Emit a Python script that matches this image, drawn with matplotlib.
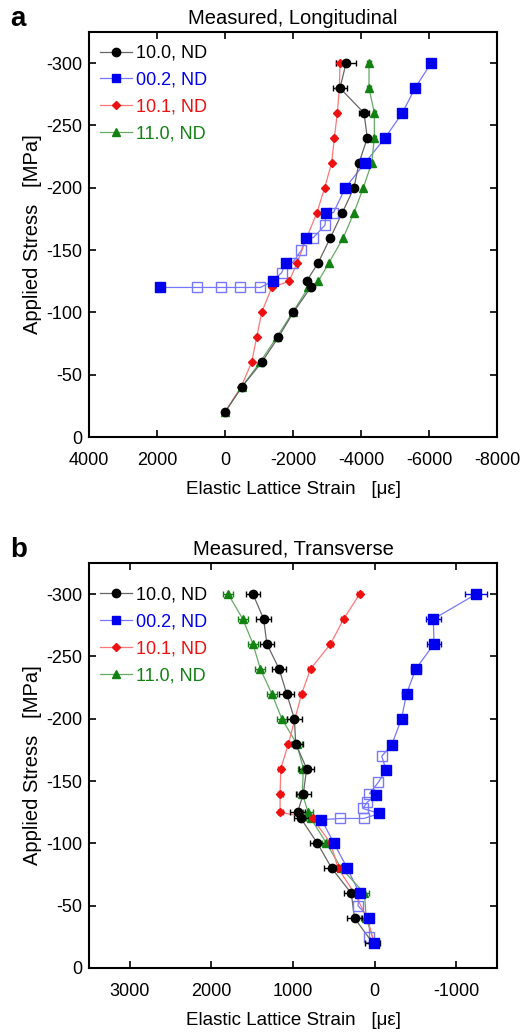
import matplotlib
matplotlib.use("Agg")
import matplotlib.pyplot as plt
from matplotlib.lines import Line2D
import numpy as np

plt.rcParams['font.family'] = ['Liberation Sans', 'DejaVu Sans']
plt.rcParams['axes.unicode_minus'] = False

# ---------------- data ----------------
stress = [-20, -40, -60, -80, -100, -120, -125, -140, -160, -180, -200, -220, -240, -260, -280, -300]

# Panel a: Measured, Longitudinal
a_100 = [0, -490, -1080, -1570, -2010, -2520, -2400, -2745, -3100, -3450, -3794, -3941, -4186, -4088, -3382, -3560]
a_100_err = [30, 30, 30, 30, 30, 30, 30, 30, 30, 40, 40, 60, 80, 150, 220, 300]
a_101 = [0, -470, -785, -930, -1080, -1373, -1885, -2127, -2402, -2705, -2930, -3137, -3216, -3304, -3363, -3382]
a_101_err = [30, 30, 30, 30, 30, 30, 30, 30, 30, 30, 30, 30, 40, 40, 60, 120]
a_110 = [0, -490, -1030, -1520, -1990, -2451, -2745, -3060, -3480, -3794, -4069, -4314, -4392, -4392, -4235, -4235]
a_110_err = [30, 30, 30, 30, 30, 30, 30, 30, 30, 30, 30, 30, 40, 40, 60, 60]
# 00.2 in load-step order (filled = measured at load step, open = during hold)
a_002_stress = [-120, -120, -120, -120, -120, -125, -132, -140, -140, -150, -160, -160, -170, -180, -180, -200, -220, -240, -260, -280, -300]
a_002_strain = [1910, 830, 125, -440, -1040, -1400, -1670, -1785, -1990, -2250, -2370, -2600, -2940, -2980, -3190, -3540, -4118, -4706, -5215, -5590, -6060]
a_002_open = [0, 1, 1, 1, 1, 0, 1, 0, 1, 1, 0, 1, 1, 0, 1, 0, 0, 0, 0, 0, 0]

# Panel b: Measured, Transverse
b_100 = [22, 246, 286, 525, 700, 903, 943, 873, 833, 967, 983, 1077, 1170, 1320, 1360, 1490]
b_100_err = [90, 90, 90, 90, 90, 90, 90, 90, 90, 90, 90, 90, 90, 90, 90, 90]
b_101 = [2, 91, 246, 448, 538, 760, 1158, 1158, 1150, 1056, 976, 894, 785, 541, 380, 185]
b_101_err = [30, 30, 30, 30, 30, 30, 30, 30, 30, 30, 30, 30, 30, 30, 30, 30]
b_110 = [2, 103, 124, 408, 590, 780, 815, 886, 873, 955, 1137, 1259, 1401, 1490, 1615, 1794]
b_110_err = [60, 60, 60, 60, 60, 60, 60, 60, 60, 60, 60, 60, 60, 60, 60, 60]
b_002_stress = [-20, -25, -40, -50, -60, -80, -100, -119, -120, -120, -124, -128, -133, -139, -140, -149, -159, -170, -179, -200, -220, -240, -260, -280, -300]
b_002_strain = [2, 63, 63, 204, 185, 335, 496, 651, 428, 131, -59, 144, 91, -18, 63, -46, -140, -88, -209, -330, -391, -505, -728, -720, -1243]
b_002_open = [0, 1, 0, 1, 0, 0, 0, 0, 1, 1, 0, 1, 1, 0, 1, 1, 0, 1, 0, 0, 0, 0, 0, 0, 0]
b_002_err = [40, 40, 40, 40, 40, 40, 40, 40, 40, 40, 40, 40, 40, 40, 40, 40, 40, 40, 40, 40, 50, 60, 80, 90, 140]

labels = ['10.0, ND', '00.2, ND', '10.1, ND', '11.0, ND']

# ---------------- styles ----------------
C_BLACK, C_BLUE, C_RED, C_GREEN = '#000000', '#0000ee', '#ee1111', '#128212'
L_BLACK, L_BLUE, L_RED, L_GREEN = '#666666', '#7777ff', '#ff7777', '#66aa66'
FS = 13

fig = plt.figure(figsize=(5.2, 10.34), dpi=100)


def series(ax, x, y, err, mk, ms, c, lc):
    ax.plot(x, y, '-', color=lc, lw=0.9, zorder=2)
    ax.errorbar(x, y, xerr=err, fmt=mk, ms=ms, mfc=c, mec=c, ecolor=c,
                elinewidth=1.0, capsize=2.2, capthick=1.0, zorder=3)


def blue_series(ax, st, sn, op, err=None):
    ax.plot(sn, st, '-', color=L_BLUE, lw=0.9, zorder=2)
    st = np.array(st); sn = np.array(sn); op = np.array(op, bool)
    if err is not None:
        err = np.array(err)
        ax.errorbar(sn[~op], st[~op], xerr=err[~op], fmt='none', ecolor=C_BLUE,
                    elinewidth=1.0, capsize=2.2, capthick=1.0, zorder=3)
    ax.plot(sn[op], st[op], 's', ms=6.5, mfc='none', mec=L_BLUE, mew=1.0, zorder=3)
    ax.plot(sn[~op], st[~op], 's', ms=6.5, mfc=C_BLUE, mec=C_BLUE, zorder=4)


def style(ax, xlim, xticks, title, leg_top):
    ax.set_xlim(*xlim)
    ax.set_ylim(0, -325)
    ax.set_xticks(xticks)
    ax.set_yticks([0, -50, -100, -150, -200, -250, -300])
    ax.tick_params(direction='in', top=True, right=True, length=5, width=1.2,
                   labelsize=FS)
    ax.tick_params(axis='x', pad=10.5)
    ax.tick_params(axis='y', pad=5)
    for s in ax.spines.values():
        s.set_linewidth(1.5)
    ax.set_title(title, fontsize=14.5, pad=6)
    ax.set_xlabel('Elastic Lattice Strain   [\u03bc\u03b5]', fontsize=13.5, labelpad=9)
    ax.set_ylabel('Applied Stress   [MPa]', fontsize=14.5, labelpad=3)
    handles = [
        Line2D([], [], color=L_BLACK, lw=0.9, marker='o', ms=6, mfc=C_BLACK, mec=C_BLACK),
        Line2D([], [], color=L_BLUE, lw=0.9, marker='s', ms=6, mfc=C_BLUE, mec=C_BLUE),
        Line2D([], [], color=L_RED, lw=0.9, marker='D', ms=4, mfc=C_RED, mec=C_RED),
        Line2D([], [], color=L_GREEN, lw=0.9, marker='^', ms=6, mfc=C_GREEN, mec=C_GREEN),
    ]
    leg = ax.legend(handles, labels, loc='upper left', bbox_to_anchor=(0.0, leg_top),
                    frameon=False, fontsize=FS,
                    handlelength=1.8, handletextpad=0.2, labelspacing=0.55,
                    borderaxespad=0.35, borderpad=0.25)
    for t, c in zip(leg.get_texts(), [C_BLACK, C_BLUE, C_RED, C_GREEN]):
        t.set_color(c)


# Panel a
ax_a = fig.add_axes([89 / 520, 1 - 437 / 1034, 408 / 520, 405 / 1034])
blue_series(ax_a, a_002_stress, a_002_strain, a_002_open)
series(ax_a, a_110, stress, a_110_err, '^', 6, C_GREEN, L_GREEN)
series(ax_a, a_101, stress, a_101_err, 'D', 4.2, C_RED, L_RED)
series(ax_a, a_100, stress, a_100_err, 'o', 6, C_BLACK, L_BLACK)
style(ax_a, (4000, -8000), [4000, 2000, 0, -2000, -4000, -6000, -8000],
      'Measured, Longitudinal', 0.995)

# Panel b
ax_b = fig.add_axes([89 / 520, 1 - 968 / 1034, 408 / 520, 405 / 1034])
blue_series(ax_b, b_002_stress, b_002_strain, b_002_open, b_002_err)
series(ax_b, b_110, stress, b_110_err, '^', 6, C_GREEN, L_GREEN)
series(ax_b, b_101, stress, b_101_err, 'D', 4.2, C_RED, L_RED)
series(ax_b, b_100, stress, b_100_err, 'o', 6, C_BLACK, L_BLACK)
style(ax_b, (3500, -1500), [3000, 2000, 1000, 0, -1000], 'Measured, Transverse', 0.968)

fig.text(10 / 520, 1 - 26 / 1034, 'a', fontsize=20, fontweight='bold', va='baseline')
fig.text(10 / 520, 1 - 557 / 1034, 'b', fontsize=20, fontweight='bold', va='baseline')

fig.savefig('out.png', dpi=100)
